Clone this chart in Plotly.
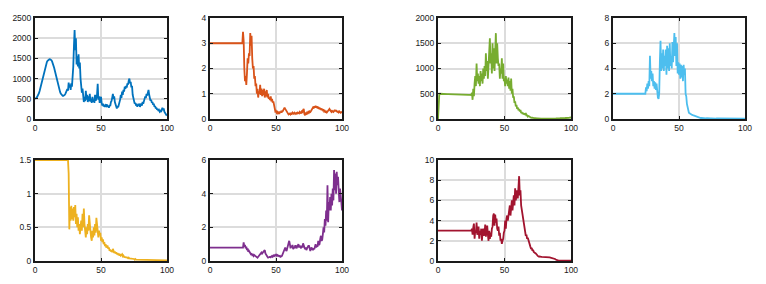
import plotly.graph_objects as go

# shared sample positions (0 to 100 in steps of 0.5)
x_vals = [i / 2 for i in range(201)]

s1_blue = [
    500, 505, 520, 540, 565, 600, 640, 695, 760, 830,
    900, 975, 1050, 1125, 1200, 1265, 1320, 1370, 1410, 1440,
    1460, 1475, 1480, 1478, 1470, 1450, 1420, 1380, 1330, 1270,
    1200, 1125, 1050, 975, 900, 830, 770, 715, 670, 630,
    600, 585, 575, 575, 580, 595, 620, 650, 690, 740,
    700, 900, 780, 850, 720, 880, 800, 1000, 1300, 1800,
    2200, 1700, 2000, 1350, 1550, 1300, 1600, 1250, 1400, 1000,
    800, 650, 750, 500, 420, 550, 440, 700, 480, 600,
    420, 560, 440, 620, 430, 500, 400, 550, 430, 480,
    400, 600, 450, 520, 600, 870, 480, 560, 400, 500,
    550, 400, 330, 380, 310, 350, 300, 340, 320, 360,
    300, 330, 280, 350, 320, 420, 450, 530, 620, 500,
    560, 420, 380, 300, 260, 320, 290, 350, 400, 480,
    600, 520, 680, 600, 720, 680, 800, 750, 820, 780,
    880, 850, 950, 1000, 880, 920, 780, 820, 600, 500,
    420, 380, 400, 330, 380, 300, 360, 330, 380, 300,
    350, 380, 330, 420, 380, 460, 500, 560, 520, 620,
    580, 680, 720, 600, 520, 450, 480, 400, 420, 350,
    380, 300, 320, 260, 280, 230, 250, 200, 220, 180,
    200, 170, 230, 280, 220, 260, 180, 150, 130, 100,
    110,
]

s2_orange = [
    3, 3, 3, 3, 3, 3, 3, 3, 3, 3,
    3, 3, 3, 3, 3, 3, 3, 3, 3, 3,
    3, 3, 3, 3, 3, 3, 3, 3, 3, 3,
    3, 3, 3, 3, 3, 3, 3, 3, 3, 3,
    3, 3, 3, 3, 3, 3, 3, 3, 3, 3,
    3.45, 3.1, 2.0, 1.5, 1.7, 1.35, 1.8, 2.4, 2.2, 2.6,
    2.5, 3.4, 2.9, 3.3, 2.4, 2.0, 2.1, 1.6, 1.7, 1.3,
    1.4, 1.0, 1.2, 0.85, 1.1, 1.0, 1.35, 0.95, 1.2, 0.9,
    1.15, 0.95, 1.2, 0.85, 1.1, 0.9, 1.15, 0.85, 1.0, 0.8,
    0.85, 0.75, 0.9, 0.7, 0.8, 0.65, 0.7, 0.5, 0.45, 0.3,
    0.32, 0.25, 0.28, 0.22, 0.25, 0.2, 0.3, 0.25, 0.3, 0.28,
    0.3, 0.35, 0.4, 0.45, 0.4, 0.35, 0.3, 0.25, 0.2, 0.18,
    0.2, 0.22, 0.18, 0.22, 0.2, 0.25, 0.22, 0.2, 0.25, 0.22,
    0.2, 0.24, 0.22, 0.26, 0.24, 0.22, 0.28, 0.25, 0.22, 0.3,
    0.28, 0.35, 0.4, 0.2, 0.15, 0.22, 0.2, 0.25, 0.22, 0.28,
    0.25, 0.3, 0.28, 0.32, 0.35, 0.4, 0.45, 0.42, 0.5, 0.45,
    0.52, 0.45, 0.5, 0.42, 0.48, 0.4, 0.45, 0.38, 0.42, 0.35,
    0.4, 0.35, 0.38, 0.3, 0.32, 0.28, 0.3, 0.26, 0.3, 0.35,
    0.38, 0.4, 0.35, 0.3, 0.28, 0.32, 0.3, 0.28, 0.32, 0.36,
    0.3, 0.35, 0.3, 0.28, 0.3, 0.26, 0.3, 0.28, 0.25, 0.27,
    0.25,
]

s3_green = [
    0, 500, 500, 500, 498, 498, 497, 497, 496, 496,
    495, 495, 494, 494, 493, 493, 492, 492, 491, 491,
    490, 490, 489, 489, 488, 488, 487, 487, 486, 486,
    485, 485, 484, 484, 483, 483, 482, 482, 481, 481,
    480, 480, 479, 479, 478, 478, 477, 477, 476, 476,
    475, 520, 380, 600, 450, 700, 850, 650, 1100, 750,
    900, 700, 850, 650, 950, 750, 900, 700, 1000, 800,
    1050, 850, 1300, 950, 1150, 800, 1000, 1200, 1600, 1100,
    1300, 900, 1500, 1000, 1400, 950, 1200, 1700, 1100, 1500,
    1200, 1050, 1100, 800, 1000, 900, 1200, 800, 1100, 750,
    800, 650, 850, 700, 780, 650, 820, 600, 750, 560,
    800, 500, 600, 420, 450, 320, 350, 250, 280, 200,
    230, 170, 200, 150, 180, 120, 140, 100, 120, 90,
    110, 80, 120, 60, 80, 50, 60, 40, 45, 30,
    35, 25, 28, 20, 22, 15, 18, 12, 15, 10,
    12, 8, 10, 8, 9, 7, 8, 6, 8, 6,
    7, 6, 8, 6, 7, 5, 7, 6, 8, 6,
    8, 7, 9, 8, 10, 8, 10, 9, 12, 10,
    12, 10, 14, 12, 15, 13, 16, 14, 18, 16,
    18, 16, 20, 18, 22, 20, 24, 22, 26, 28,
    30,
]

s4_lightblue = [
    2, 2, 2, 2, 2, 2, 2, 2, 2, 2,
    2, 2, 2, 2, 2, 2, 2, 2, 2, 2,
    2, 2, 2, 2, 2, 2, 2, 2, 2, 2,
    2, 2, 2, 2, 2, 2, 2, 2, 2, 2,
    2, 2, 2, 2, 2, 2, 2, 2, 2, 2,
    2.5, 2.2, 2.8, 2.4, 3.0, 2.6, 5.0, 3.2, 3.8, 3.0,
    3.6, 2.6, 3.0, 2.4, 2.9, 2.3, 2.8, 2.0, 1.7, 1.6,
    2.0, 4.5, 6.2, 3.8, 5.2, 4.0, 5.5, 3.8, 5.0, 4.2,
    5.5, 3.5, 5.8, 4.0, 5.6, 3.8, 6.0, 4.2, 5.0, 4.0,
    6.1, 4.5, 5.5, 6.8, 5.0, 6.5, 4.2, 6.0, 3.6, 4.5,
    3.5, 4.4, 3.2, 4.3, 3.3, 4.2, 3.0, 4.3, 3.5, 4.0,
    2.0, 1.8, 1.2, 0.9, 0.6, 0.5, 0.45, 0.4, 0.4, 0.35,
    0.32, 0.3, 0.28, 0.25, 0.22, 0.2, 0.18, 0.15, 0.14, 0.12,
    0.1, 0.1, 0.09, 0.08, 0.08, 0.07, 0.07, 0.06, 0.06, 0.05,
    0.05, 0.05, 0.06, 0.05, 0.04, 0.05, 0.06, 0.05, 0.04, 0.05,
    0.04, 0.05, 0.04, 0.04, 0.05, 0.04, 0.03, 0.04, 0.04, 0.05,
    0.04, 0.04, 0.05, 0.04, 0.03, 0.04, 0.04, 0.05, 0.04, 0.03,
    0.04, 0.03, 0.04, 0.04, 0.03, 0.04, 0.05, 0.04, 0.03, 0.04,
    0.03, 0.04, 0.03, 0.03, 0.04, 0.03, 0.04, 0.03, 0.03, 0.04,
    0.03, 0.03, 0.04, 0.03, 0.03, 0.04, 0.03, 0.03, 0.03, 0.04,
    0.03,
]

s5_yellow = [
    1.5, 1.5, 1.5, 1.5, 1.5, 1.5, 1.5, 1.5, 1.5, 1.5,
    1.5, 1.5, 1.5, 1.5, 1.5, 1.5, 1.5, 1.5, 1.5, 1.5,
    1.5, 1.5, 1.5, 1.5, 1.5, 1.5, 1.5, 1.5, 1.5, 1.5,
    1.5, 1.5, 1.5, 1.5, 1.5, 1.5, 1.5, 1.5, 1.5, 1.5,
    1.5, 1.5, 1.5, 1.5, 1.5, 1.5, 1.5, 1.5, 1.5, 1.5,
    1.5, 1.3, 0.47, 0.8, 0.6, 0.82, 0.62, 0.78, 0.6, 0.8,
    0.65, 0.83, 0.55, 0.7, 0.5, 0.65, 0.45, 0.55, 0.4, 0.5,
    0.6, 0.45, 0.7, 0.5, 0.78, 0.55, 0.45, 0.35, 0.5, 0.4,
    0.55, 0.45, 0.68, 0.5, 0.45, 0.35, 0.3, 0.45, 0.35, 0.5,
    0.38, 0.55, 0.42, 0.64, 0.5, 0.4, 0.35, 0.45, 0.38, 0.42,
    0.3, 0.35, 0.28, 0.32, 0.25, 0.28, 0.22, 0.25, 0.2, 0.22,
    0.22, 0.18, 0.2, 0.15, 0.17, 0.14, 0.16, 0.13, 0.18, 0.15,
    0.12, 0.14, 0.11, 0.13, 0.1, 0.12, 0.09, 0.11, 0.08, 0.1,
    0.08, 0.09, 0.1, 0.07, 0.08, 0.06, 0.06, 0.05, 0.06, 0.05,
    0.05, 0.04, 0.05, 0.04, 0.04, 0.03, 0.04, 0.03, 0.03, 0.03,
    0.03, 0.02, 0.03, 0.02, 0.02, 0.02, 0.02, 0.02, 0.01, 0.02,
    0.01, 0.015, 0.01, 0.015, 0.01, 0.01, 0.015, 0.01, 0.01, 0.015,
    0.01, 0.01, 0.015, 0.01, 0.01, 0.015, 0.01, 0.01, 0.01, 0.015,
    0.01, 0.01, 0.015, 0.01, 0.01, 0.01, 0.015, 0.01, 0.01, 0.01,
    0.015, 0.01, 0.01, 0.01, 0.015, 0.01, 0.01, 0.01, 0.015, 0.01,
    0.01,
]

s6_purple = [
    0.8, 0.8, 0.8, 0.8, 0.8, 0.8, 0.8, 0.8, 0.8, 0.8,
    0.8, 0.8, 0.8, 0.8, 0.8, 0.8, 0.8, 0.8, 0.8, 0.8,
    0.8, 0.8, 0.8, 0.8, 0.8, 0.8, 0.8, 0.8, 0.8, 0.8,
    0.8, 0.8, 0.8, 0.8, 0.8, 0.8, 0.8, 0.8, 0.8, 0.8,
    0.8, 0.8, 0.8, 0.8, 0.8, 0.8, 0.8, 0.8, 0.8, 0.8,
    0.8, 1.1, 0.85, 0.95, 0.75, 0.85, 0.65, 0.75, 0.55, 0.6,
    0.5, 0.45, 0.4, 0.42, 0.35, 0.38, 0.3, 0.35, 0.32, 0.3,
    0.25, 0.22, 0.2, 0.25, 0.3, 0.28, 0.4, 0.45, 0.5, 0.45,
    0.5, 0.55, 0.6, 0.65, 0.45, 0.35, 0.3, 0.25, 0.2, 0.22,
    0.2, 0.25, 0.22, 0.28, 0.3, 0.25, 0.32, 0.35, 0.3, 0.35,
    0.38, 0.32, 0.35, 0.3, 0.32, 0.28, 0.3, 0.25, 0.28, 0.3,
    0.4, 0.5, 0.6, 0.7, 0.8, 0.65, 0.6, 0.75, 0.9, 1.0,
    1.2, 1.0, 0.75, 0.9, 0.8, 0.95, 0.7, 0.85, 0.75, 0.9,
    0.9, 0.75, 0.85, 0.95, 1.0, 0.8, 0.9, 0.85, 0.75, 0.9,
    0.8, 1.05, 0.9, 0.85, 0.7, 0.8, 0.65, 0.75, 0.85, 0.9,
    0.9, 0.7, 0.6, 0.75, 0.8, 0.7, 0.65, 0.75, 0.7, 0.85,
    1.0, 0.8, 0.9, 0.85, 1.2, 0.95, 1.0, 1.3, 1.5, 1.2,
    1.25, 1.6, 2.0, 1.7, 2.5, 2.1, 3.0, 2.4, 4.5, 2.3,
    3.5, 3.0, 3.8, 3.0, 4.0, 3.3, 4.3, 3.6, 5.4, 4.2,
    5.2, 4.0, 5.3, 4.5, 5.0, 4.2, 3.5, 4.3, 4.0, 3.5,
    3.0,
]

s7_red = [
    3, 3, 3, 3, 3, 3, 3, 3, 3, 3,
    3, 3, 3, 3, 3, 3, 3, 3, 3, 3,
    3, 3, 3, 3, 3, 3, 3, 3, 3, 3,
    3, 3, 3, 3, 3, 3, 3, 3, 3, 3,
    3, 3, 3, 3, 3, 3, 3, 3, 3, 3,
    3.0, 3.2, 2.6, 3.3, 3.7, 2.2, 3.0, 2.8, 3.8, 2.6,
    2.8, 3.4, 2.2, 3.0, 2.6, 3.2, 2.0, 2.8, 3.2, 2.5,
    2.8, 3.6, 2.4, 3.0, 3.5, 2.6, 2.0, 3.0, 2.2, 2.8,
    2.4, 3.2, 3.4, 4.5, 4.7, 3.5, 4.6, 3.8, 4.2, 3.2,
    3.0, 3.4, 2.5, 2.8, 2.0, 2.2, 1.7, 2.0, 2.2, 2.8,
    3.0, 4.0, 3.2, 4.2, 4.5, 4.0, 4.5, 4.8, 5.5, 4.5,
    5.2, 6.0, 5.0, 6.2, 6.5, 5.5, 7.2, 6.0, 6.5, 7.0,
    6.2, 7.0, 8.4, 6.5, 7.0, 5.5, 5.0, 4.5, 4.0, 3.5,
    3.0, 2.8, 2.5, 2.6, 2.2, 2.3, 2.0, 1.8, 1.5, 1.4,
    1.2, 1.3, 1.0, 1.1, 0.9, 0.8, 0.8, 0.75, 0.7, 0.6,
    0.5, 0.45, 0.42, 0.45, 0.4, 0.42, 0.4, 0.4, 0.42, 0.38,
    0.4, 0.38, 0.4, 0.36, 0.38, 0.35, 0.36, 0.35, 0.35, 0.33,
    0.32, 0.3, 0.3, 0.28, 0.25, 0.22, 0.2, 0.15, 0.1, 0.08,
    0.06, 0.05, 0.05, 0.05, 0.04, 0.05, 0.04, 0.04, 0.05, 0.04,
    0.04, 0.04, 0.03, 0.04, 0.03, 0.03, 0.04, 0.03, 0.03, 0.03,
    0.03,
]

x_ticks = [0, 50, 100]
y_ticks_1 = [0, 500, 1000, 1500, 2000, 2500]
y_ticks_2 = [0, 1, 2, 3, 4]
y_ticks_3 = [0, 500, 1000, 1500, 2000]
y_ticks_4 = [0, 2, 4, 6, 8]
y_ticks_5 = [0, 0.5, 1, 1.5]
y_ticks_6 = [0, 2, 4, 6]
y_ticks_7 = [0, 2, 4, 6, 8, 10]

# page body adds an 8px margin, so the figure is drawn at (8, 8)
OFF = 8
W, H = 766 - 2 * OFF, 284 - 2 * OFF
# (series, color, yticks, ymax, left px, right px, top px, bottom px) in window pixels
panels = [
    (s1_blue, "#0072BD", y_ticks_1, 2500, 35, 167, 18, 119),
    (s2_orange, "#D95319", y_ticks_2, 4, 210, 342, 18, 119),
    (s3_green, "#77AC30", y_ticks_3, 2000, 438, 571, 18, 119),
    (s4_lightblue, "#4DBEEE", y_ticks_4, 8, 613, 745, 18, 119),
    (s5_yellow, "#EDB120", y_ticks_5, 1.5, 35, 167, 160, 261),
    (s6_purple, "#7E2F8E", y_ticks_6, 6, 210, 342, 160, 261),
    (s7_red, "#A2142F", y_ticks_7, 10, 438, 571, 160, 261),
]

fig = go.Figure()
layout = dict(
    template="none",
    width=W, height=H,
    margin=dict(l=0, r=0, t=0, b=0, autoexpand=False),
    paper_bgcolor="white", plot_bgcolor="white",
    showlegend=False,
    font=dict(family="Liberation Sans, Arial, sans-serif", size=8.5, color="#1a1a1a"),
)
for i, (ys, col, yt, ymax, l, r, t, b) in enumerate(panels, start=1):
    xa = "x" if i == 1 else f"x{i}"
    ya = "y" if i == 1 else f"y{i}"
    fig.add_trace(go.Scatter(x=x_vals, y=ys, mode="lines",
                             line=dict(color=col, width=1.8),
                             xaxis=xa, yaxis=ya, hoverinfo="skip"))
    axis_common = dict(
        automargin=False,
        showline=True, linecolor="#1a1a1a", linewidth=2, mirror="ticks",
        ticks="inside", ticklen=3, tickwidth=1, tickcolor="#1a1a1a",
        showgrid=True, gridcolor="#DCDCDC", gridwidth=1.6,
        zeroline=False, tickfont=dict(size=8.5, color="#1a1a1a"),
    )
    layout[f"xaxis{'' if i == 1 else i}"] = dict(
        axis_common, domain=[(l - OFF) / W, (r - OFF) / W], range=[0, 100],
        tickvals=x_ticks, anchor=ya,
    )
    layout[f"yaxis{'' if i == 1 else i}"] = dict(
        axis_common, domain=[1 - (b - OFF) / H, 1 - (t - OFF) / H], range=[0, ymax],
        tickvals=yt, anchor=xa,
    )
fig.update_layout(**layout)
fig.write_html("out.html")
